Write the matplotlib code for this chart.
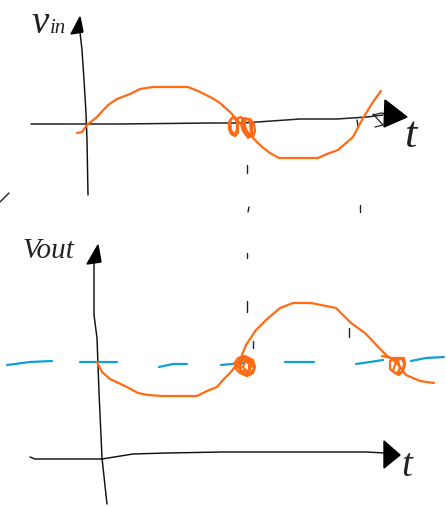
import matplotlib
matplotlib.use("Agg")
import matplotlib.pyplot as plt

# Hand-drawn strokes (x, y in picture coordinates)
vin_yaxis = [(88,195),(87,140),(86,113),(84,80),(82,50),(80,32)]
vin_xaxis = [(31,124),(120,124),(210,123),(243,123),(300,119),(337,119),(367,117),(383,115)]
vin_yarrow = [(80,17),(71,34),(83,32)]
vin_xarrow = [(385,100),(407,117),(384,127)]
vin_xarrow_open = [(373,115),(381,113),(388,114)]
vin_xarrow_open2 = [(373,114),(383,125),(375,127)]

vin_curve = [(77,133),(82,132),(87,125),(97,117),(108,105),(117,99),(130,94),(140,89),(153,87),
             (188,87),(198,91),(212,98),(220,103),(230,112),(240,123),(252,137),(262,147),(270,153),
             (279,158),(318,158),(327,154),(338,150),(353,137),(363,118),(373,102),(381,91)]
vin_scribble = [(232,118),(229,122),(229,129),(231,134),(235,136),(238,133),(238,126),(236,120),(233,117),
                (230,121),(231,130),(234,135),(237,130),(237,122),(238,118),(241,117),(244,122),(246,129),
                (249,136),(253,137),(255,131),(254,124),(250,119),(246,119),(244,124),(245,132),(248,138),
                (252,134),(252,125),(248,119),(243,118),(241,124),(243,131),(247,136),(251,133),(250,123)]

vout_yaxis = [(107,504),(102,458),(99,392),(97,338),(94,315),(94,262)]
vout_xaxis = [(30,457),(35,459),(102,459),(133,454),(167,453),(223,452),(245,452),(366,452),(385,453)]
vout_yarrow = [(98,245),(87,264),(101,262)]
vout_xarrow = [(384,441),(400,455),(384,468)]

vout_curve = [(97,362),(102,372),(110,379),(127,387),(138,393),(148,395),(162,396),(197,396),(207,391),
              (217,387),(223,380),(231,372),(240,360),(246,345),(256,330),(266,320),(280,308),(293,303),
              (311,303),(336,308),(351,323),(365,333),(386,355),(396,362),(406,375),(420,381),(434,383)]
vout_scribble1 = [(234,364),(238,358),(245,356),(253,360),(255,367),(253,373),(247,376),(240,373),(235,368),
                  (237,360),(244,357),(249,362),(250,370),(246,375),(241,371),(240,363),(245,358),(252,362),
                  (254,369),(249,375),(243,373),(238,366),(241,359),(248,358),(252,365),(247,372),(243,367),
                  (245,361),(250,364),(249,371),(242,371),(236,365)]
vout_scribble2 = [(382,356),(392,358),(404,358),(405,365),(402,372),(399,375),(395,373),(390,369),(390,361),
                  (394,358),(398,361),(400,368),(397,374),(393,371),(396,362),(401,358),(404,363),(403,371),
                  (399,373)]

reference_dashes = [
    [(7,365),(30,362),(52,361)],
    [(80,362),(117,362)],
    [(159,367),(173,364),(187,364)],
    [(221,365),(243,363)],
    [(285,362),(314,362)],
    [(356,364),(370,362),(383,360)],
    [(411,361),(426,358),(444,357)],
]
small_marks = [
    [(247,165),(247,173)],
    [(249,207),(248,212)],
    [(360,205),(360,212)],
    [(247,253),(247,258)],
    [(247,301),(247,312)],
    [(253,341),(253,348)],
    [(349,328),(349,337)],
    [(357,120),(358,126)],
    [(0,202),(7,195),(9,193)],
]
labels = [("v", 31, 33, 28), ("in", 50, 33, 15), ("Vout", 22, 258, 21), ("t", 404, 147, 32), ("t", 401, 476, 28)]

BLACK = "#222222"
ORANGE = "#FF6A13"
BLUE = "#0E9FD8"

fig = plt.figure(figsize=(4.46, 5.07), dpi=100)
ax = fig.add_axes([0, 0, 1, 1])
ax.set_xlim(0, 446)
ax.set_ylim(507, 0)
ax.axis("off")


def stroke(points, color=BLACK, lw=1.0, z=2):
    xs, ys = zip(*points)
    ax.plot(xs, ys, color=color, lw=lw, solid_capstyle="round", solid_joinstyle="round", zorder=z)


for s in (vin_yaxis, vout_yaxis, vout_xaxis):
    stroke(s, color="#111111", lw=1.05)
stroke(vin_xaxis, lw=1.1)
for s in (vin_xarrow_open, vin_xarrow_open2):
    stroke(s, lw=0.9)
for s in (vin_yarrow, vin_xarrow, vout_yarrow, vout_xarrow):
    xs, ys = zip(*s)
    ax.fill(xs, ys, color="black", zorder=3)
for s in small_marks:
    stroke(s, lw=1.0)
for s in reference_dashes:
    stroke(s, color=BLUE, lw=1.6)
for s in (vin_curve, vin_scribble, vout_curve, vout_scribble1, vout_scribble2):
    stroke(s, color=ORANGE, lw=1.6, z=4)

for text, x, y, size in labels:
    ax.text(x, y, text, fontsize=size, family="Liberation Serif", style="italic",
            color=BLACK, ha="left", va="baseline", zorder=5)

fig.savefig("out.png", dpi=100)
